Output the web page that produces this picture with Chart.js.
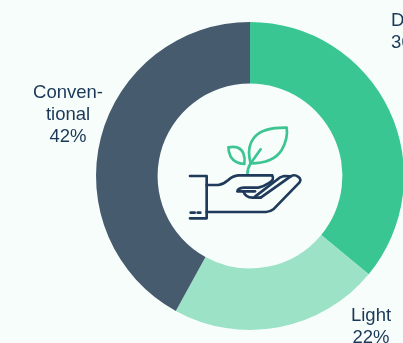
<!DOCTYPE html>
<html>
<head>
<meta charset="utf-8">
<style>
  html, body { margin: 0; padding: 0; width: 403px; height: 343px; overflow: hidden; background: #f6fdfa; }
  #wrap { position: relative; width: 403px; height: 343px; overflow: hidden; }
  canvas { position: absolute; left: 0; top: 0; }
  svg { position: absolute; left: 160px; top: 100px; }
</style>
<script src="https://cdn.jsdelivr.net/npm/chart.js@4"></script>
</head>
<body>
<div id="wrap">
  <canvas id="chart" width="500" height="343"></canvas>
  <svg width="160" height="140" viewBox="0 0 480 420" fill="none" stroke-linecap="round" stroke-linejoin="round">
    <g stroke="#3cc492" stroke-width="8">
      <path d="M380 83 Q310 82 285 110 Q258 140 272 190 Q340 190 365 150 Q385 115 380 83Z"/>
      <path d="M302 148 L272 190 Q262 205 262 224"/>
      <path d="M205 142 Q240 135 250 160 Q256 175 253 192 Q225 190 212 170 Q205 155 205 142Z"/>
    </g>
    <g stroke="#1f3a5a" stroke-width="8">
      <path d="M90 228 H140 V355 H90"/>
      <path d="M92 338 H104 M113 338 H121"/>
      <path d="M140 255 H175 Q190 253 205 240 Q218 227 235 226 H336"/>
      <path d="M336 226 Q346 240 325 250 Q310 260 295 263 H252 Q233 265 232 274 H250 Q256 292 278 293 H302"/>
      <path d="M140 336 H318 Q330 336 340 328 L418 248 Q426 238 414 230 Q404 222 392 229 L302 293"/>
      <path d="M285 290 L350 240 Q360 230 372 228 L392 229"/>
      <path d="M250 274 H285"/>
    </g>
  </svg>
</div>
<script>
// Share of consumption by type, clockwise from twelve o'clock
const categories = ["Dark", "Light", "Conventional"];
const shares = [36, 22, 42];
const sliceColors = ["#3ac692", "#9be2c7", "#475b6f"];

// Wrapped text of each outside label, with its anchor in canvas pixels
const labelLines = [["Dark", "36%"], ["Light", "22%"], ["Conven-", "tional", "42%"]];
const labelAnchors = [[391, 21, "left"], [371, 316, "center"], [68, 93, "center"]];
const lineHeight = 22;

const outsideLabels = {
  id: "outsideLabels",
  afterDatasetsDraw(chart) {
    const ctx = chart.ctx;
    ctx.save();
    ctx.font = '18.5px "Liberation Sans", Arial, sans-serif';
    ctx.fillStyle = "#1b3858";
    ctx.textBaseline = "middle";
    labelLines.forEach((lines, i) => {
      const [x, y, align] = labelAnchors[i];
      ctx.textAlign = align;
      lines.forEach((line, n) => ctx.fillText(line, x, y + n * lineHeight));
    });
    ctx.restore();
  }
};

new Chart(document.getElementById("chart"), {
  type: "doughnut",
  data: {
    labels: categories,
    datasets: [{ data: shares, backgroundColor: sliceColors, borderWidth: 0 }]
  },
  options: {
    responsive: false,
    animation: false,
    cutout: "60%",
    layout: { padding: { left: 96, right: 96, top: 22, bottom: 13 } },
    plugins: { legend: { display: false }, tooltip: { enabled: false } }
  },
  plugins: [outsideLabels]
});
</script>
</body>
</html>
